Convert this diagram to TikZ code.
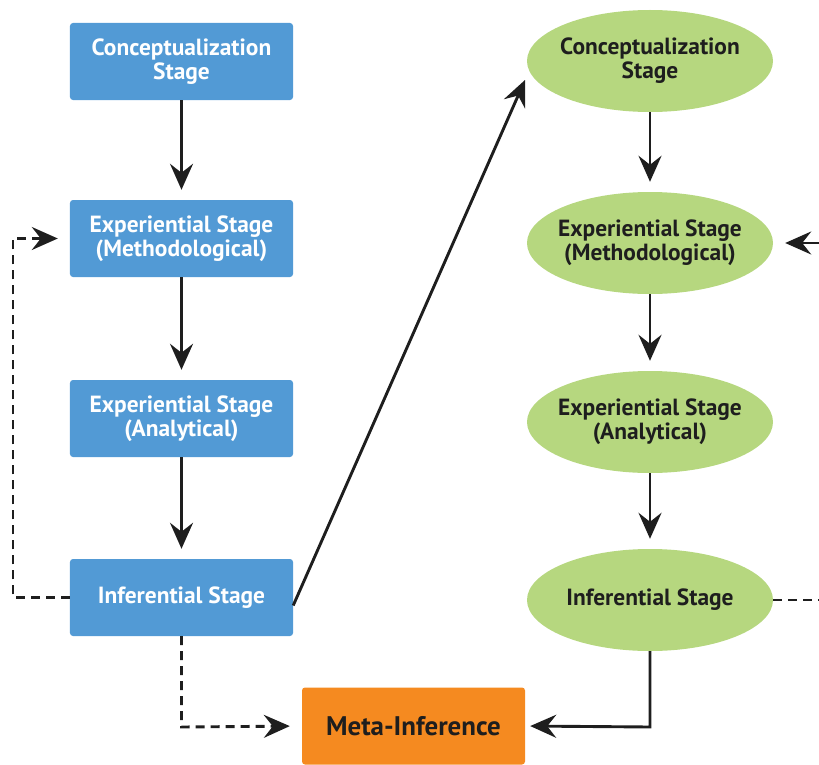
\documentclass[tikz,border=0pt]{standalone}
\usepackage{fontspec}
\setmainfont{PT Sans}
\usetikzlibrary{arrows.meta,shapes.geometric}
\definecolor{boxblue}{HTML}{529AD5}
\definecolor{ellgreen}{HTML}{B6D77F}
\definecolor{metaorange}{HTML}{F58A20}
\definecolor{arrowdark}{HTML}{1E1E1E}
\tikzset{
  stagebox/.style={rectangle, rounded corners=3bp, fill=boxblue, text=white,
    minimum width=223bp, minimum height=77bp, align=center,
    font=\fontsize{23.5}{24}\selectfont\bfseries, inner sep=0pt},
  stageell/.style={ellipse, fill=ellgreen, text=arrowdark,
    minimum width=246bp, minimum height=102bp, align=center,
    font=\fontsize{23.5}{24}\selectfont\bfseries,
    inner xsep=-20bp, inner ysep=0pt},
  metabox/.style={rectangle, rounded corners=3bp, fill=metaorange, text=arrowdark,
    minimum width=223bp, minimum height=77bp, align=center,
    font=\fontsize{27}{30}\selectfont\bfseries, inner sep=0pt},
  flow/.style={draw=arrowdark, line width=2.9bp,
    -{Stealth[length=26bp, width=23bp, inset=9bp]}},
  dflow/.style={flow, dash pattern=on 9bp off 6bp},
  dline/.style={draw=arrowdark, line width=2.9bp, dash pattern=on 9bp off 6bp},
}
\begin{document}
\begin{tikzpicture}[x=1bp, y=-1bp]
\useasboundingbox (0,0) rectangle (819,765);

% left column: rectangular stages
\node[stagebox] (b1) at (181.5,61.5) {Conceptualization\\Stage};
\node[stagebox] (b2) at (181.5,238.5) {Experiential Stage\\(Methodological)};
\node[stagebox] (b3) at (181.5,418.5) {Experiential Stage\\(Analytical)};
\node[stagebox] (b4) at (181.5,597.5) {Inferential Stage};

% right column: elliptical stages
\node[stageell] (e1) at (650,61) {Conceptualization\\Stage};
\node[stageell] (e2) at (650,243) {Experiential Stage\\(Methodological)};
\node[stageell] (e3) at (650,422) {Experiential Stage\\(Analytical)};
\node[stageell] (e4) at (650,600) {Inferential Stage};

% final box
\node[metabox] (meta) at (413.5,726) {Meta-Inference};

% helper points for the bent connectors
\coordinate (lft) at (13,0);
\coordinate (low) at (0,727);
\coordinate (redge) at (819,0);

% left column flow
\draw[flow, shorten >=10bp] (b1) -- (b2);
\draw[flow, shorten >=10bp] (b2) -- (b3);
\draw[flow, shorten >=10bp] (b3) -- (b4);

% right column flow
\draw[flow, shorten >=10bp] (e1) -- (e2);
\draw[flow, shorten >=10bp] (e2) -- (e3);
\draw[flow, shorten >=10bp] (e3) -- (e4);

% feedback loop on the left
\draw[dflow, shorten >=12bp] (b4.west) -- (lft |- b4.west) -- (lft |- b2.west) -- (b2.west);

% cross link to the second strand
\draw[flow] ([yshift=-8bp]b4.east) -- (525,80);

% both strands into the meta-inference
\draw[dflow, shorten >=12bp] (b4.south) -- (b4.south |- low) -- (meta.west);
\draw[flow, shorten >=5bp] (e4.south) -- (e4.south |- low) -- (meta.east);

% loop on the right, running past the edge
\draw[dline] (e4.east) -- (redge |- e4.east);
\draw[flow, shorten >=12bp] (redge |- e2.east) -- (e2.east);
\end{tikzpicture}
\end{document}
